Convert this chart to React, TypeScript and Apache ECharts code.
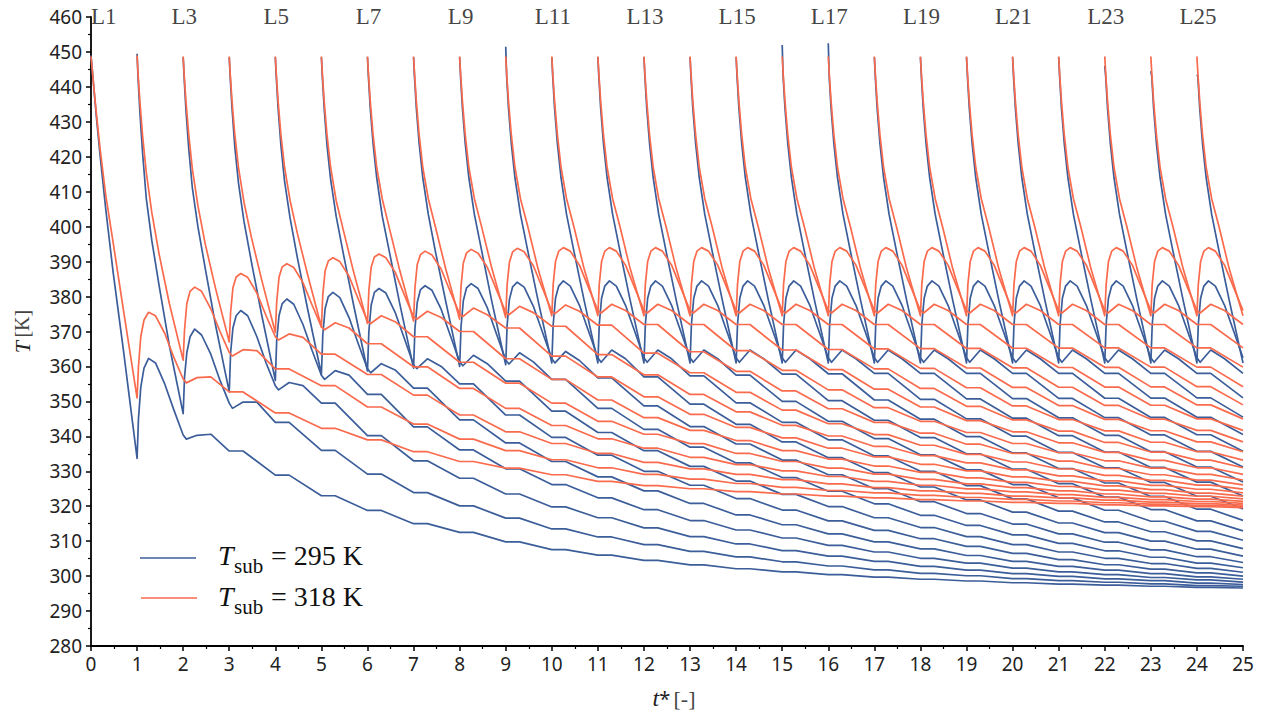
import React, { useEffect, useRef } from "react";
import * as echarts from "echarts";

const T_END = 25;
const BLUE = "#3b5d99";
const RED = "#fa6a4c";

// top labels
const topLabels = ["L1", "L3", "L5", "L7", "L9", "L11", "L13", "L15", "L17", "L19", "L21", "L23", "L25"];
const topLabelTimes = [0, 2, 4, 6, 8, 10, 12, 14, 16, 18, 20, 22, 24];

// ages (time since a layer was deposited) of the early samples
const decayAges = [0.02, 0.06, 0.12, 0.2, 0.32, 0.48, 0.7, 1.0];
const reheatAges = [1.03, 1.08, 1.15, 1.25, 1.4, 1.6, 1.8, 2.0, 2.07, 2.3, 2.6];
const plateauLen = 0.3;

// ---------- T_sub = 295 K ----------
const blueStart = [449, 449.5, 448.5, 448.5, 448.5, 448.5, 448.5, 448.5, 448.5, 451.5, 448.5, 448.5, 448.5, 448.5, 448.5, 452, 452.5, 448.5, 448.5, 448.5, 448.5, 448.5, 446, 444.5, 443.5];
const blueDecaySteady = [443, 434, 424, 414, 403.5, 393, 379, 361];
const blueDecayEarly = [
  [446, 440, 431, 420, 405, 387, 365, 333.7],
  [443, 433, 421, 408, 396, 383, 366, 346.5],
  [443, 433.5, 422.5, 411, 400, 388, 372, 352.7],
  [443, 434, 423, 412.5, 401.5, 390, 375, 356],
  [443, 434, 423.5, 413, 402.5, 391, 376.5, 357.7],
  [443, 434, 423.5, 413.5, 403, 392, 377.5, 358.7],
  [443, 434, 424, 414, 403, 392.5, 378, 359.5],
  [443, 434, 424, 414, 403.5, 392.5, 378.5, 360],
  [443, 434, 424, 414, 403.5, 393, 378.5, 360.5],
];
const blueReheatSteady = [372, 379.5, 383, 384.5, 383, 377.5, 370, 362.5, 361.2, 364.7, 362.2];
const blueReheatEarly = [
  [345, 354, 359.5, 362.3, 361, 355, 347.5, 340.4, 339.2, 340.3, 340.6],
  [357, 364, 368.5, 370.7, 369, 363.5, 356, 349.5, 348, 349.8, 349.8],
  [364, 371, 374.5, 376, 374.5, 368.5, 361, 354.5, 353.3, 355.4, 354.5],
  [367.5, 374.5, 378, 379.3, 377.8, 372, 364.5, 357.5, 356.3, 358.8, 357.5],
  [369, 376.5, 380, 381.2, 379.7, 374, 366.5, 359.3, 358.2, 360.8, 359],
  [370, 377.5, 381.2, 382.3, 381, 375.5, 368, 360.5, 359.4, 362.2, 360],
  [370.8, 378.3, 382, 383.1, 381.8, 376.3, 368.8, 361.3, 360.2, 363.2, 360.8],
  [371.3, 378.8, 382.5, 383.7, 382.3, 376.8, 369.3, 361.8, 360.7, 363.9, 361.3],
  [371.7, 379.2, 382.8, 384.1, 382.7, 377.2, 369.7, 362.2, 361, 364.3, 361.7],
];
// value of every layer at each integer time from age 3 on (t = k+2 ... 25)
const blueTail = [
  [335.8, 328.9, 323, 318.8, 315, 312.5, 309.8, 307.6, 306, 304.5, 303.2, 302.1, 301.2, 300.4, 299.7, 299.1, 298.6, 298.1, 297.7, 297.4, 297.1, 296.8, 296.6],
  [344, 336, 329.2, 323.9, 320.1, 316.6, 313.5, 311.2, 309, 307.1, 305.5, 304.1, 302.9, 301.8, 300.8, 300.1, 299.3, 298.7, 298.25, 297.8, 297.3, 297.1],
  [349.5, 340.2, 333, 328, 323.5, 319.8, 316.7, 313.8, 311.3, 309.2, 307.3, 305.7, 304.2, 302.8, 301.7, 300.7, 299.9, 299.2, 298.7, 298, 297.6],
  [352, 342.7, 336.1, 330.7, 326.2, 322.4, 319, 315.9, 313.2, 310.9, 308.8, 306.9, 305.1, 303.7, 302.3, 301.2, 300.4, 299.6, 298.9, 298.3],
  [353.8, 344.7, 338.1, 332.8, 328.4, 324.4, 320.8, 317.5, 314.7, 312.1, 309.8, 307.8, 305.9, 304.2, 302.8, 301.7, 300.7, 299.8, 299.1],
  [355, 346.1, 339.7, 334.6, 330, 326, 322.2, 318.9, 315.8, 313.1, 310.7, 308.5, 306.5, 304.7, 303.25, 302, 300.9, 300],
  [355.8, 347.2, 341.1, 335.9, 331.4, 327.2, 323.4, 319.9, 316.7, 313.9, 311.3, 309, 306.9, 305.1, 303.6, 302.2, 301.1],
  [356.3, 348, 342, 336.9, 332.4, 328.2, 324.3, 320.7, 317.4, 314.5, 311.8, 309.35, 307.25, 305.4, 303.7, 302.4],
  [356.7, 348.7, 342.8, 337.8, 333.2, 329, 325, 321.3, 317.9, 314.9, 312.1, 309.7, 307.5, 305.55, 303.9],
  [357, 349.2, 343.45, 338.4, 333.9, 329.6, 325.5, 321.8, 318.3, 315.2, 312.45, 310, 307.7, 305.7],
  [357.3, 349.6, 344, 339, 334.4, 330, 325.9, 322.1, 318.6, 315.5, 312.7, 310.1, 307.85],
  [357.5, 350, 344.3, 339.35, 334.7, 330.4, 326.2, 322.4, 318.85, 315.7, 312.8, 310.25],
  [357.8, 350.2, 344.6, 339.65, 335, 330.6, 326.45, 322.6, 319.05, 315.8, 312.95],
  [357.9, 350.4, 344.9, 339.9, 335.25, 330.8, 326.65, 322.8, 319.15, 315.95],
  [358, 350.6, 345, 340.05, 335.4, 331, 326.8, 322.85, 319.25],
  [358, 350.7, 345.2, 340.2, 335.5, 331.1, 326.9, 322.95],
  [358, 350.8, 345.3, 340.3, 335.6, 331.2, 326.95],
  [358, 350.85, 345.35, 340.4, 335.7, 331.25],
  [358, 350.9, 345.4, 340.45, 335.75],
  [358, 350.95, 345.45, 340.5],
  [358, 351, 345.5],
  [358, 351],
  [358],
];

// ---------- T_sub = 318 K ----------
const redStart = [448.7, 449, 448.7, 448.7, 448.7, 448.7, 448.7, 448.7, 448.7, 448.7, 448.7, 448.7, 448.7, 448.7, 448.7, 448.7, 448.7, 448.7, 448.7, 448.7, 448.7, 448.7, 448.7, 448.7, 448.7];
const redDecaySteady = [444, 436, 426.5, 417, 408, 400, 388, 374.5];
const redDecayEarly = [
  [446, 440, 432, 422, 409, 395.5, 376.5, 351],
  [444, 436, 426, 415.5, 404, 392, 378, 361.8],
  [444, 436, 426.5, 416.5, 406, 395, 382.5, 367],
  [444, 436, 426.5, 417, 407, 397, 385, 369.7],
  [444, 436, 426.5, 417, 407.5, 398, 386.3, 371.3],
  [444, 436, 426.5, 417, 407.5, 398.8, 387, 372.3],
  [444, 436, 426.5, 417, 408, 399.3, 387.5, 373],
  [444, 436, 426.5, 417, 408, 399.6, 387.8, 373.5],
  [444, 436, 426.5, 417, 408, 399.8, 388, 374],
];
const redReheatSteady = [383.5, 390, 393, 394, 393, 389, 382.5, 376, 375.3, 377.8, 376];
const redReheatEarly = [
  [360, 368.5, 373.3, 375.5, 374.5, 369.5, 362.5, 356.4, 355.3, 356.8, 357],
  [370.5, 378, 381.5, 382.7, 381.5, 376.5, 370, 364, 363, 364.8, 364.5],
  [375.5, 382.5, 385.6, 386.6, 385.5, 381, 374.5, 368.5, 367.6, 369.3, 368.3],
  [378.5, 385.5, 388.5, 389.4, 388.3, 384, 377.5, 371.3, 370.5, 372.5, 371],
  [380.5, 387.3, 390.2, 391.1, 390, 385.8, 379.3, 373, 372.3, 374.5, 372.8],
  [381.7, 388.4, 391.3, 392.2, 391.1, 387, 380.5, 374.2, 373.5, 375.8, 374],
  [382.5, 389.2, 392, 393, 391.9, 387.8, 381.3, 375, 374.3, 376.7, 374.8],
  [383, 389.6, 392.5, 393.5, 392.4, 388.4, 381.9, 375.5, 374.8, 377.2, 375.4],
  [383.3, 389.8, 392.8, 393.8, 392.8, 388.8, 382.3, 375.8, 375.1, 377.6, 375.8],
];
const redTail = [
  [352.7, 346.7, 342.3, 339, 335.6, 332.8, 330.9, 329, 327.1, 325.9, 325, 324.2, 323.5, 322.9, 322.4, 321.9, 321.5, 321.1, 320.8, 320.4, 320.1, 319.85, 319.6],
  [359.3, 354.5, 348.4, 343.5, 339.2, 335.9, 333.3, 331, 329.1, 327.75, 326.5, 325.4, 324.5, 323.8, 323.1, 322.5, 321.95, 321.5, 321, 320.6, 320.25, 319.9],
  [363.5, 357.7, 351.8, 346.1, 341.3, 337.95, 335.1, 332.55, 330.7, 329.1, 327.6, 326.4, 325.3, 324.4, 323.7, 322.9, 322.4, 321.75, 321.2, 320.75, 320.3],
  [366.5, 359.9, 353.7, 348, 343.1, 339.3, 336.6, 334, 331.9, 330.1, 328.5, 327.1, 326, 324.95, 324.1, 323.3, 322.55, 321.9, 321.35, 320.8],
  [368.5, 361.2, 355.2, 349.5, 344.3, 340.6, 337.9, 335.1, 332.8, 330.9, 329.2, 327.7, 326.4, 325.3, 324.4, 323.5, 322.7, 322.05, 321.4],
  [370, 362.2, 356.3, 350.4, 345.35, 341.7, 338.8, 335.9, 333.5, 331.5, 329.7, 328.1, 326.8, 325.65, 324.6, 323.65, 322.85, 322.1],
  [371, 362.95, 357, 351.3, 346.3, 342.55, 339.55, 336.6, 334.1, 332, 330.1, 328.4, 327.1, 325.8, 324.75, 323.75, 322.9],
  [371.5, 363.4, 357.6, 352, 347, 343.15, 340.1, 337.1, 334.5, 332.4, 330.4, 328.7, 327.25, 325.95, 324.85, 323.8],
  [371.8, 363.8, 358.2, 352.6, 347.5, 343.6, 340.5, 337.45, 334.85, 332.65, 330.65, 328.85, 327.4, 326.05, 324.9],
  [372, 364.2, 358.6, 353, 347.9, 344, 340.9, 337.75, 335.1, 332.9, 330.8, 329, 327.45, 326.1],
  [372, 364.5, 358.9, 353.3, 348.2, 344.3, 341.1, 337.95, 335.3, 333, 330.9, 329.1, 327.5],
  [372, 364.7, 359.1, 353.5, 348.4, 344.5, 341.3, 338.15, 335.4, 333.1, 331, 329.1],
  [372, 364.85, 359.3, 353.7, 348.6, 344.7, 341.5, 338.25, 335.5, 333.2, 331],
  [372, 365, 359.45, 353.9, 348.7, 344.8, 341.55, 338.3, 335.6, 333.2],
  [372, 365.1, 359.55, 354, 348.8, 344.85, 341.6, 338.4, 335.6],
  [372, 365.15, 359.6, 354.05, 348.85, 344.9, 341.7, 338.4],
  [372, 365.2, 359.7, 354.1, 348.9, 345, 341.7],
  [372, 365.25, 359.75, 354.15, 349, 345],
  [372, 365.3, 359.8, 354.2, 349],
  [372, 365.3, 359.8, 354.2],
  [372, 365.3, 359.8],
  [372, 365.3],
  [372],
];

function buildLayer(k: number, start: number, decay: number[], reheat: number[], tail: number[]) {
  const s = k - 1;
  const pts: number[][] = [[s, start]];
  const add = (t: number, v: number) => {
    if (t <= T_END + 1e-9) pts.push([Math.round(t * 1000) / 1000, v]);
  };
  decayAges.forEach((a, i) => add(s + a, decay[i]));
  reheatAges.forEach((a, i) => add(s + a, reheat[i]));
  tail.forEach((v, i) => {
    const t = s + 3 + i;
    add(t, v);
    if (t < T_END) add(t + plateauLen, v);
  });
  return pts;
}

function family(name: string, color: string, start: number[], decE: number[][], decS: number[], reE: number[][], reS: number[], tail: number[][]) {
  const out: any[] = [];
  for (let k = 1; k <= 25; k++) {
    const dec = decE[k - 1] || decS;
    const re = reE[k - 1] || reS;
    const tl = tail[k - 1] || [];
    out.push({
      name,
      type: "line",
      data: buildLayer(k, start[k - 1], dec, re, tl),
      showSymbol: false,
      symbol: "none",
      silent: true,
      lineStyle: { color, width: 1.7, join: "round" },
      itemStyle: { color },
      z: name === "red" ? 3 : 2,
    });
  }
  return out;
}

export default function App() {
  const ref = useRef<HTMLDivElement>(null);
  useEffect(() => {
    const chart = echarts.init(ref.current!, null, { renderer: "svg" });
    const serif = "'Liberation Serif', 'DejaVu Serif', serif";
    const sans = "'Noto Sans', 'Open Sans', sans-serif";
    const legendText = (y: number, value: string) => [
      { type: "text", x: 218, y, style: { text: "T", fontFamily: serif, fontStyle: "italic", fontSize: 28, fill: "#111", textVerticalAlign: "bottom" } },
      { type: "text", x: 234, y: y + 7, style: { text: "sub", fontFamily: serif, fontSize: 21, fill: "#111", textVerticalAlign: "bottom" } },
      { type: "text", x: 271, y, style: { text: "= " + value + " K", fontFamily: serif, fontSize: 28, fill: "#111", textVerticalAlign: "bottom" } },
    ];
    const option: any = {
      animation: false,
      backgroundColor: "#ffffff",
      grid: { left: 91, right: 30, top: 17, bottom: 64 },
      xAxis: {
        type: "value",
        min: 0,
        max: 25,
        interval: 1,
        name: "{i|t}{a|*} {n|[-]}",
        nameLocation: "middle",
        nameGap: 40,
        nameTextStyle: {
          padding: [0, 0, 0, 14],
          rich: {
            i: { fontFamily: serif, fontStyle: "italic", fontSize: 24, color: "#222" },
            a: { fontFamily: sans, fontSize: 20, color: "#222" },
            n: { fontFamily: serif, fontSize: 22, color: "#444" },
          },
        },
        axisLine: { show: true, lineStyle: { color: "#000", width: 1.8 } },
        axisTick: { show: true, length: 5, lineStyle: { color: "#000", width: 1.5 } },
        minorTick: { show: true, splitNumber: 2, length: 3, lineStyle: { color: "#000", width: 1.2 } },
        splitLine: { show: false },
        axisLabel: { fontFamily: sans, fontSize: 19, color: "#222", margin: 8 },
      },
      yAxis: {
        type: "value",
        min: 280,
        max: 460,
        interval: 10,
        name: "{i|T} {n|[K]}",
        nameLocation: "middle",
        nameGap: 58,
        nameRotate: 90,
        nameTextStyle: {
          rich: {
            i: { fontFamily: serif, fontStyle: "italic", fontSize: 22, color: "#222" },
            n: { fontFamily: serif, fontSize: 20, color: "#444" },
          },
        },
        axisLine: { show: true, lineStyle: { color: "#000", width: 1.8 } },
        axisTick: { show: true, length: 5, lineStyle: { color: "#000", width: 1.5 } },
        minorTick: { show: true, splitNumber: 2, length: 3, lineStyle: { color: "#000", width: 1.2 } },
        splitLine: { show: false },
        axisLabel: { fontFamily: sans, fontSize: 19, color: "#222", margin: 9 },
      },
      series: [
        ...family("blue", BLUE, blueStart, blueDecayEarly, blueDecaySteady, blueReheatEarly, blueReheatSteady, blueTail),
        ...family("red", RED, redStart, redDecayEarly, redDecaySteady, redReheatEarly, redReheatSteady, redTail),
        {
          type: "scatter",
          silent: true,
          symbolSize: 1,
          itemStyle: { color: "rgba(0,0,0,0)" },
          z: 5,
          data: topLabelTimes.map((t, i) => ({
            value: [t, 460],
            label: {
              show: true,
              formatter: topLabels[i],
              position: "inside",
              align: i === 0 ? "left" : "center",
              offset: i === 0 ? [0, -1] : [1, -1],
              fontFamily: serif,
              fontSize: 23,
              color: "#111",
            },
          })),
        },
      ],
      graphic: [
        { type: "line", shape: { x1: 140, y1: 558, x2: 196, y2: 558 }, style: { stroke: BLUE, lineWidth: 1.7 } },
        { type: "line", shape: { x1: 141, y1: 598, x2: 197, y2: 598 }, style: { stroke: RED, lineWidth: 1.7 } },
        ...legendText(569, "295"),
        ...legendText(610, "318"),
      ],
    };
    chart.setOption(option);
    return () => chart.dispose();
  }, []);
  return <div ref={ref} style={{ position: "absolute", left: 0, top: 0, width: 1273, height: 715 }} />;
}
